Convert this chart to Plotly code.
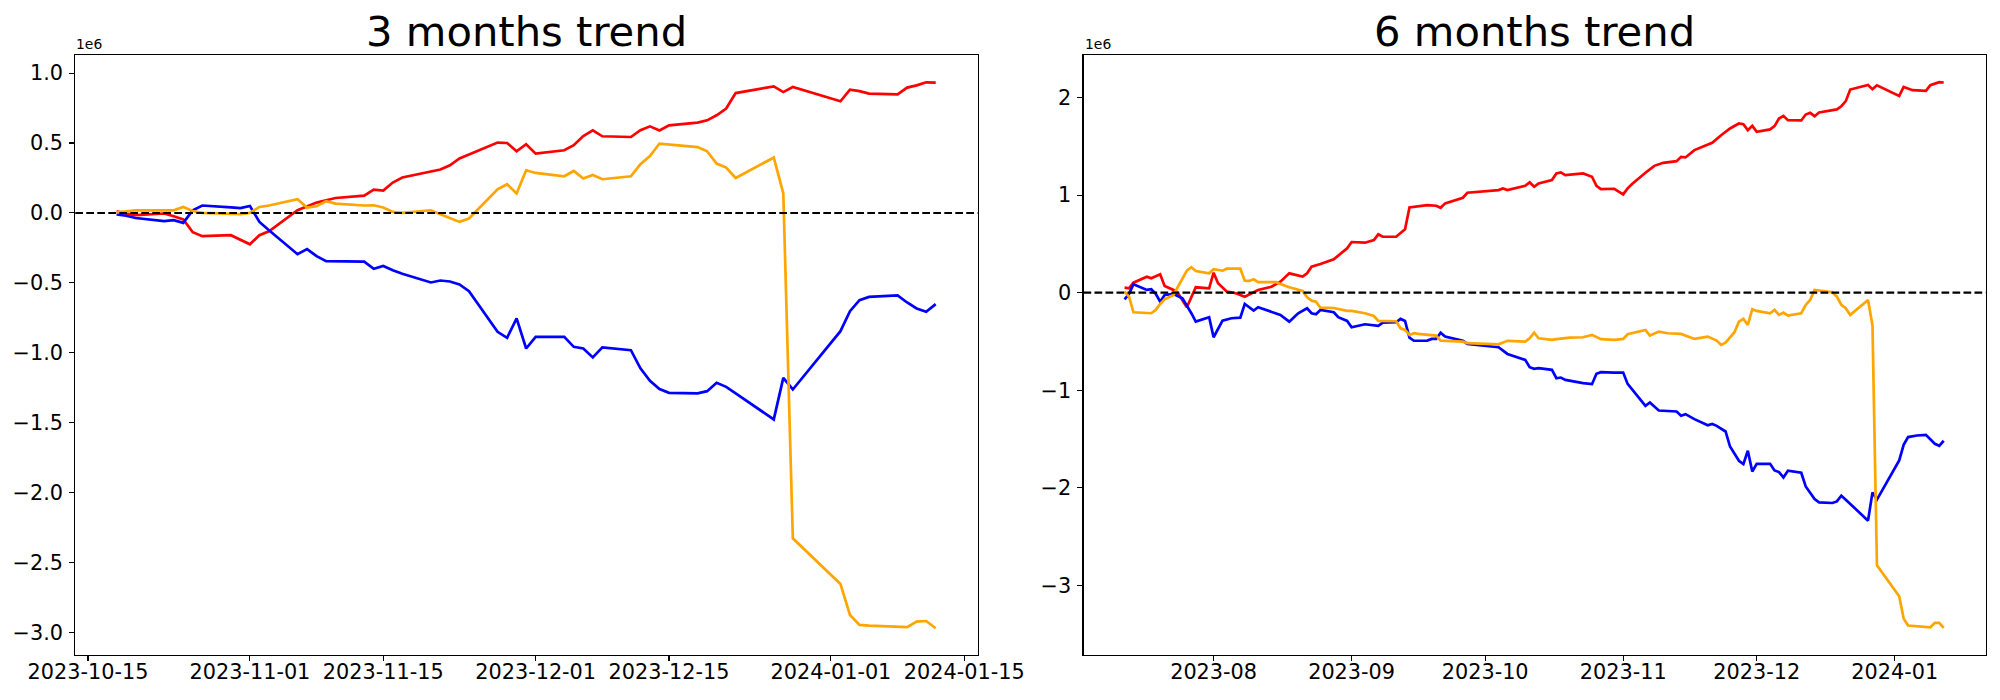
import plotly.graph_objects as go

# ---------------- 3 months data (values in units of 1e6) ----------------
dates_3m = [
    "2023-10-18", "2023-10-19", "2023-10-20", "2023-10-23", "2023-10-24", "2023-10-25",
    "2023-10-26", "2023-10-27", "2023-10-30", "2023-10-31", "2023-11-01", "2023-11-02",
    "2023-11-03", "2023-11-06", "2023-11-07", "2023-11-08", "2023-11-09", "2023-11-10",
    "2023-11-13", "2023-11-14", "2023-11-15", "2023-11-16", "2023-11-17", "2023-11-20",
    "2023-11-21", "2023-11-22", "2023-11-23", "2023-11-24", "2023-11-27", "2023-11-28",
    "2023-11-29", "2023-11-30", "2023-12-01", "2023-12-04", "2023-12-05", "2023-12-06",
    "2023-12-07", "2023-12-08", "2023-12-11", "2023-12-12", "2023-12-13", "2023-12-14",
    "2023-12-15", "2023-12-18", "2023-12-19", "2023-12-20", "2023-12-21", "2023-12-22",
    "2023-12-26", "2023-12-27", "2023-12-28", "2024-01-02", "2024-01-03", "2024-01-04",
    "2024-01-05", "2024-01-08", "2024-01-09", "2024-01-10", "2024-01-11", "2024-01-12",
]
red_3m = [
    0.012, -0.005, -0.016, -0.004, -0.024, -0.047, -0.138, -0.166, -0.159, -0.190,
    -0.224, -0.159, -0.131, 0.019, 0.048, 0.074, 0.091, 0.107, 0.124, 0.167,
    0.160, 0.217, 0.253, 0.293, 0.310, 0.341, 0.389, 0.417, 0.503, 0.500,
    0.441, 0.491, 0.424, 0.448, 0.484, 0.550, 0.591, 0.548, 0.543, 0.591,
    0.619, 0.589, 0.626, 0.646, 0.662, 0.698, 0.746, 0.857, 0.905, 0.864,
    0.900, 0.798, 0.881, 0.871, 0.853, 0.848, 0.896, 0.912, 0.934, 0.931,
]
orange_3m = [
    0.005, 0.012, 0.019, 0.019, 0.019, 0.043, 0.014, 0.000, -0.008, -0.009,
    0.000, 0.043, 0.053, 0.098, 0.039, 0.048, 0.084, 0.067, 0.053, 0.055,
    0.039, 0.007, 0.000, 0.019, -0.009, -0.036, -0.064, -0.040, 0.169, 0.205,
    0.139, 0.305, 0.286, 0.262, 0.300, 0.246, 0.271, 0.241, 0.262, 0.348,
    0.407, 0.496, 0.490, 0.471, 0.441, 0.353, 0.324, 0.250, 0.396, 0.139,
    -2.326, -2.652, -2.874, -2.945, -2.950, -2.957, -2.961, -2.921, -2.917, -2.969,
]
blue_3m = [
    -0.011, -0.020, -0.036, -0.059, -0.052, -0.071, 0.019, 0.053, 0.040, 0.034,
    0.050, -0.064, -0.124, -0.295, -0.259, -0.309, -0.345, -0.346, -0.348, -0.399,
    -0.379, -0.409, -0.435, -0.497, -0.483, -0.490, -0.511, -0.559, -0.850, -0.893,
    -0.754, -0.969, -0.886, -0.886, -0.957, -0.969, -1.033, -0.961, -0.981, -1.111,
    -1.200, -1.259, -1.286, -1.290, -1.274, -1.214, -1.243, -1.290, -1.476, -1.179,
    -1.262, -0.845, -0.702, -0.624, -0.600, -0.590, -0.640, -0.683, -0.707, -0.652,
]

# ---------------- 6 months data (values in units of 1e6) ----------------
dates_6m_red = [
    "2023-07-12", "2023-07-13", "2023-07-14", "2023-07-17", "2023-07-18", "2023-07-19",
    "2023-07-20", "2023-07-21", "2023-07-23", "2023-07-24", "2023-07-25", "2023-07-26",
    "2023-07-28", "2023-07-31", "2023-08-01", "2023-08-02", "2023-08-04", "2023-08-06",
    "2023-08-08", "2023-08-10", "2023-08-11", "2023-08-14", "2023-08-16", "2023-08-18",
    "2023-08-21", "2023-08-22", "2023-08-23", "2023-08-25", "2023-08-28", "2023-08-31",
    "2023-09-01", "2023-09-04", "2023-09-06", "2023-09-07", "2023-09-08", "2023-09-11",
    "2023-09-13", "2023-09-14", "2023-09-18", "2023-09-20", "2023-09-21", "2023-09-22",
    "2023-09-26", "2023-09-27", "2023-10-04", "2023-10-05", "2023-10-06", "2023-10-10",
    "2023-10-11", "2023-10-12", "2023-10-13", "2023-10-16", "2023-10-17", "2023-10-18",
    "2023-10-19", "2023-10-23", "2023-10-25", "2023-10-26", "2023-10-27", "2023-10-30",
    "2023-11-01", "2023-11-02", "2023-11-03", "2023-11-06", "2023-11-08", "2023-11-10",
    "2023-11-13", "2023-11-14", "2023-11-15", "2023-11-17", "2023-11-20", "2023-11-21",
    "2023-11-23", "2023-11-25", "2023-11-27", "2023-11-28", "2023-11-29", "2023-11-30",
    "2023-12-01", "2023-12-04", "2023-12-05", "2023-12-06", "2023-12-07", "2023-12-08",
    "2023-12-11", "2023-12-12", "2023-12-13", "2023-12-14", "2023-12-15", "2023-12-19",
    "2023-12-20", "2023-12-21", "2023-12-22", "2023-12-26", "2023-12-27", "2023-12-28",
    "2024-01-02", "2024-01-03", "2024-01-05", "2024-01-08", "2024-01-09", "2024-01-11",
    "2024-01-12",
]
red_6m = [
    0.051, 0.045, 0.102, 0.164, 0.147, 0.171,
    0.188, 0.069, 0.028, -0.006, -0.075, -0.150,
    0.055, 0.045, 0.205, 0.096, 0.010, -0.006,
    -0.041, 0.010, 0.028, 0.061, 0.113, 0.198,
    0.164, 0.198, 0.266, 0.294, 0.342, 0.455,
    0.519, 0.512, 0.540, 0.598, 0.573, 0.573,
    0.649, 0.874, 0.898, 0.891, 0.870, 0.915,
    0.973, 1.024, 1.051, 1.069, 1.051, 1.095,
    1.130, 1.085, 1.120, 1.154, 1.222, 1.233,
    1.205, 1.222, 1.188, 1.095, 1.062, 1.065,
    1.007, 1.069, 1.113, 1.229, 1.300, 1.331,
    1.348, 1.392, 1.386, 1.461, 1.512, 1.536,
    1.614, 1.683, 1.734, 1.727, 1.666, 1.710,
    1.648, 1.673, 1.707, 1.785, 1.812, 1.768,
    1.765, 1.826, 1.843, 1.809, 1.847, 1.878,
    1.911, 1.963, 2.082, 2.129, 2.085, 2.126,
    2.017, 2.109, 2.075, 2.068, 2.126, 2.157,
    2.154,
]
dates_6m_orange = [
    "2023-07-12", "2023-07-13", "2023-07-14", "2023-07-18", "2023-07-19", "2023-07-20",
    "2023-07-21", "2023-07-23", "2023-07-24", "2023-07-26", "2023-07-27", "2023-07-28",
    "2023-07-31", "2023-08-01", "2023-08-03", "2023-08-04", "2023-08-07", "2023-08-08",
    "2023-08-09", "2023-08-10", "2023-08-11", "2023-08-15", "2023-08-16", "2023-08-18",
    "2023-08-21", "2023-08-22", "2023-08-23", "2023-08-24", "2023-08-25", "2023-08-28",
    "2023-08-31", "2023-09-01", "2023-09-04", "2023-09-06", "2023-09-07", "2023-09-11",
    "2023-09-12", "2023-09-13", "2023-09-14", "2023-09-15", "2023-09-16", "2023-09-20",
    "2023-09-21", "2023-09-26", "2023-09-27", "2023-10-04", "2023-10-06", "2023-10-10",
    "2023-10-11", "2023-10-12", "2023-10-13", "2023-10-16", "2023-10-17", "2023-10-20",
    "2023-10-23", "2023-10-25", "2023-10-27", "2023-10-30", "2023-11-01", "2023-11-02",
    "2023-11-06", "2023-11-07", "2023-11-09", "2023-11-11", "2023-11-14", "2023-11-17",
    "2023-11-20", "2023-11-22", "2023-11-23", "2023-11-24", "2023-11-26", "2023-11-27",
    "2023-11-28", "2023-11-29", "2023-11-30", "2023-12-01", "2023-12-04", "2023-12-05",
    "2023-12-06", "2023-12-07", "2023-12-08", "2023-12-11", "2023-12-12", "2023-12-13",
    "2023-12-14", "2023-12-18", "2023-12-19", "2023-12-20", "2023-12-21", "2023-12-22",
    "2023-12-26", "2023-12-27", "2023-12-28", "2024-01-02", "2024-01-03", "2024-01-04",
    "2024-01-09", "2024-01-10", "2024-01-11", "2024-01-12",
]
orange_6m = [
    0.010, -0.041, -0.201, -0.211, -0.177, -0.116,
    -0.068, -0.024, 0.061, 0.225, 0.260, 0.222,
    0.198, 0.240, 0.225, 0.246, 0.246, 0.123,
    0.120, 0.137, 0.107, 0.107, 0.089, 0.055,
    0.017, -0.047, -0.082, -0.092, -0.154, -0.157,
    -0.187, -0.187, -0.211, -0.239, -0.290, -0.293,
    -0.365, -0.382, -0.433, -0.416, -0.423, -0.440,
    -0.491, -0.502, -0.518, -0.529, -0.494, -0.502,
    -0.467, -0.410, -0.467, -0.484, -0.477, -0.461,
    -0.457, -0.433, -0.477, -0.484, -0.474, -0.426,
    -0.382, -0.440, -0.399, -0.416, -0.423, -0.474,
    -0.450, -0.491, -0.535, -0.512, -0.405, -0.297,
    -0.269, -0.331, -0.170, -0.187, -0.211, -0.177,
    -0.228, -0.205, -0.235, -0.211, -0.126, -0.075,
    0.028, 0.003, -0.041, -0.126, -0.160, -0.228,
    -0.075, -0.336, -2.795, -3.112, -3.341, -3.412,
    -3.430, -3.385, -3.385, -3.436,
]
dates_6m_blue = [
    "2023-07-12", "2023-07-13", "2023-07-14", "2023-07-16", "2023-07-17", "2023-07-18",
    "2023-07-19", "2023-07-20", "2023-07-21", "2023-07-23", "2023-07-25", "2023-07-27",
    "2023-07-28", "2023-07-31", "2023-08-01", "2023-08-03", "2023-08-05", "2023-08-07",
    "2023-08-08", "2023-08-10", "2023-08-11", "2023-08-16", "2023-08-18", "2023-08-20",
    "2023-08-22", "2023-08-23", "2023-08-24", "2023-08-25", "2023-08-28", "2023-08-29",
    "2023-08-31", "2023-09-01", "2023-09-04", "2023-09-07", "2023-09-08", "2023-09-11",
    "2023-09-12", "2023-09-13", "2023-09-14", "2023-09-15", "2023-09-18", "2023-09-19",
    "2023-09-20", "2023-09-21", "2023-09-22", "2023-09-26", "2023-09-27", "2023-10-04",
    "2023-10-06", "2023-10-10", "2023-10-11", "2023-10-12", "2023-10-13", "2023-10-16",
    "2023-10-17", "2023-10-18", "2023-10-19", "2023-10-23", "2023-10-25", "2023-10-26",
    "2023-10-27", "2023-10-30", "2023-11-01", "2023-11-02", "2023-11-06", "2023-11-07",
    "2023-11-09", "2023-11-13", "2023-11-14", "2023-11-15", "2023-11-17", "2023-11-20",
    "2023-11-21", "2023-11-22", "2023-11-24", "2023-11-25", "2023-11-27", "2023-11-28",
    "2023-11-29", "2023-11-30", "2023-12-01", "2023-12-04", "2023-12-05", "2023-12-06",
    "2023-12-07", "2023-12-08", "2023-12-11", "2023-12-12", "2023-12-14", "2023-12-15",
    "2023-12-18", "2023-12-19", "2023-12-20", "2023-12-21", "2023-12-26", "2023-12-27",
    "2023-12-28", "2024-01-02", "2024-01-03", "2024-01-04", "2024-01-06", "2024-01-08",
    "2024-01-10", "2024-01-11", "2024-01-12",
]
blue_6m = [
    -0.068, -0.013, 0.086, 0.051, 0.028, 0.035,
    -0.013, -0.092, -0.024, -0.013, -0.058, -0.211,
    -0.297, -0.252, -0.457, -0.287, -0.262, -0.256,
    -0.116, -0.184, -0.150, -0.228, -0.297, -0.211,
    -0.160, -0.211, -0.221, -0.177, -0.201, -0.252,
    -0.290, -0.355, -0.324, -0.341, -0.307, -0.303,
    -0.269, -0.290, -0.462, -0.493, -0.491, -0.474,
    -0.474, -0.410, -0.450, -0.494, -0.525, -0.559,
    -0.628, -0.689, -0.764, -0.781, -0.774, -0.791,
    -0.877, -0.870, -0.894, -0.928, -0.938, -0.832,
    -0.815, -0.819, -0.819, -0.935, -1.160, -1.126,
    -1.208, -1.218, -1.262, -1.245, -1.296, -1.360,
    -1.346, -1.365, -1.423, -1.577, -1.723, -1.757,
    -1.621, -1.833, -1.754, -1.754, -1.822, -1.839,
    -1.894, -1.825, -1.846, -1.986, -2.115, -2.150,
    -2.156, -2.140, -2.081, -2.122, -2.337, -2.047,
    -2.122, -1.720, -1.559, -1.480, -1.464, -1.457,
    -1.549, -1.570, -1.518,
]

# ---------------- tick labels ----------------
xticks_3m = ["2023-10-15", "2023-11-01", "2023-11-15", "2023-12-01",
             "2023-12-15", "2024-01-01", "2024-01-15"]
xticks_6m = ["2023-08-01", "2023-09-01", "2023-10-01", "2023-11-01",
             "2023-12-01", "2024-01-01"]
xticks_6m_text = ["2023-08", "2023-09", "2023-10", "2023-11", "2023-12", "2024-01"]
yticks_3m = [-3.0, -2.5, -2.0, -1.5, -1.0, -0.5, 0.0, 0.5, 1.0]
yticks_6m = [-3, -2, -1, 0, 1, 2]
titles = ["3 months trend", "6 months trend"]
offset_label = "1e6"

FONT = "DejaVu Sans"
W, H = 2000, 700

fig = go.Figure()

def add_line(x, y, color, xa, ya):
    fig.add_trace(go.Scatter(x=x, y=y, mode="lines", xaxis=xa, yaxis=ya,
                             line=dict(color=color, width=2.7), showlegend=False,
                             hoverinfo="skip"))

add_line(dates_3m, red_3m, "red", "x", "y")
add_line(dates_3m, blue_3m, "blue", "x", "y")
add_line(dates_3m, orange_3m, "orange", "x", "y")
add_line(dates_6m_red, red_6m, "red", "x2", "y2")
add_line(dates_6m_blue, blue_6m, "blue", "x2", "y2")
add_line(dates_6m_orange, orange_6m, "orange", "x2", "y2")

# axes frames in pixels
L1, R1 = 75.3, 977.7
L2, R2 = 1083.5, 1985.7
TOP, BOT = 55.0, 655.0

axis_common = dict(
    showline=True, linecolor="black", linewidth=1.1, mirror=True,
    ticks="outside", ticklen=5, tickwidth=1.1, tickcolor="black",
    showgrid=False, zeroline=False, automargin=False,
    tickfont=dict(family=FONT, size=20.8, color="black"),
)

ydom = [1 - BOT / H, 1 - TOP / H]

fig.update_layout(
    template="none",
    width=W, height=H, autosize=False,
    margin=dict(l=0, r=0, t=0, b=0, pad=0),
    paper_bgcolor="white", plot_bgcolor="white",
    font=dict(family=FONT, color="black"),
    showlegend=False,
    xaxis=dict(domain=[L1 / W, R1 / W], anchor="y", type="date",
               range=["2023-10-13 16:00", "2024-01-16 09:50"],
               tickmode="array", tickvals=xticks_3m, ticktext=xticks_3m,
               ticklabelstandoff=-7, **axis_common),
    yaxis=dict(domain=ydom, anchor="x", range=[-3.16, 1.129],
               tickmode="array", tickvals=yticks_3m, tickformat=".1f",
               ticklabelstandoff=2, **axis_common),
    xaxis2=dict(domain=[L2 / W, R2 / W], anchor="y2", type="date",
                range=["2023-07-02 18:40", "2024-01-21 10:20"],
                tickmode="array", tickvals=xticks_6m, ticktext=xticks_6m_text,
                ticklabelstandoff=-7, **axis_common),
    yaxis2=dict(domain=ydom, anchor="x2", range=[-3.714, 2.436],
                tickmode="array", tickvals=yticks_6m, tickformat="d",
                ticklabelstandoff=2, **axis_common),
)

# dashed zero lines
for xr, yr in [("x domain", "y"), ("x2 domain", "y2")]:
    fig.add_shape(type="line", xref=xr, yref=yr, x0=0, x1=1, y0=0, y1=0,
                  line=dict(color="black", width=2.1, dash="7.7px,3.3px"),
                  layer="above")

# titles and offset labels
for (l, r), t in zip([(L1, R1), (L2, R2)], titles):
    fig.add_annotation(text=t, xref="paper", yref="paper",
                       x=(l + r) / 2 / W, y=1 - 57.5 / H,
                       xanchor="center", yanchor="bottom", showarrow=False,
                       font=dict(family=FONT, size=41.7, color="black"))
    fig.add_annotation(text=offset_label, xref="paper", yref="paper",
                       x=(l - 1) / W, y=1 - 54.3 / H,
                       xanchor="left", yanchor="bottom", showarrow=False,
                       font=dict(family=FONT, size=13.9, color="black"))

# remove the default page margin so the figure sits at the window's corner
fig.write_html("out.html",
               config={"displayModeBar": False, "staticPlot": True},
               post_script="document.body.style.margin='0';"
                           "document.body.style.padding='0';")
